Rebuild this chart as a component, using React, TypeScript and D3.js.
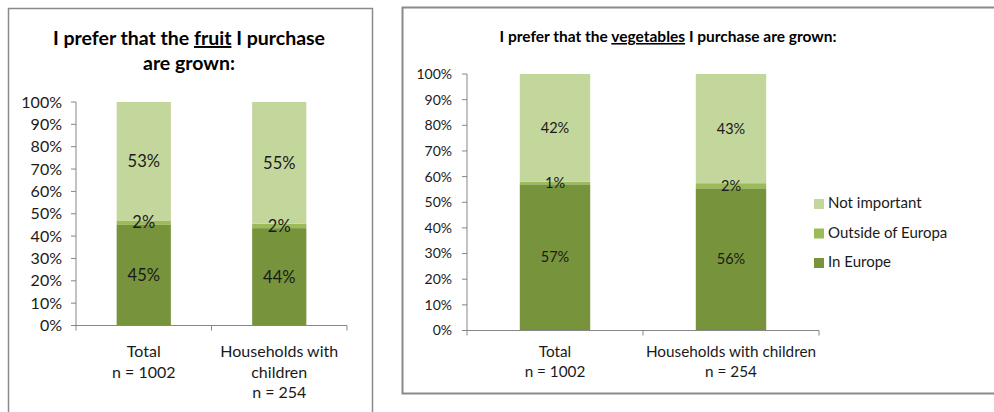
import React from 'react';
import * as d3 from 'd3';

const categories = ['Total', 'Households with children'];
const seriesNames = ['In Europe', 'Outside of Europa', 'Not important'];
const fruitInEurope = [45, 44];
const fruitOutside = [2, 2];
const fruitNotImportant = [53, 55];
const vegInEurope = [57, 56];
const vegOutside = [1, 2];
const vegNotImportant = [42, 43];
const yTicks = [0, 10, 20, 30, 40, 50, 60, 70, 80, 90, 100];
const fruitCatLabels = [['Total', 'n = 1002'], ['Households with', 'children', 'n = 254']];
const vegCatLabels = [['Total', 'n = 1002'], ['Households with children', 'n = 254']];
const legendOrder = ['Not important', 'Outside of Europa', 'In Europe'];
const colors: Record<string, string> = {
  'In Europe': '#77933C',
  'Outside of Europa': '#9BBB59',
  'Not important': '#C3D69B',
};

const FONT = 'Lato, "Open Sans", sans-serif';

type Row = { cat: string; [k: string]: any };

function buildRows(a: number[], b: number[], c: number[]): Row[] {
  return categories.map((cat, i) => ({
    cat,
    'In Europe': a[i],
    'Outside of Europa': b[i],
    'Not important': c[i],
  }));
}

interface ChartProps {
  rows: Row[];
  xLeft: number;
  xRight: number;
  yBottom: number;
  yTop: number;
  tickFont: number;
  tickGap: number;
  catFont: number;
  valFont: number;
  catLabels: string[][];
  catY: number;
  catLine: number;
}

function StackChart(p: ChartProps) {
  const x = d3.scaleBand<string>().domain(categories).range([p.xLeft, p.xRight]).paddingInner(0.6).paddingOuter(0.3);
  const y = d3.scaleLinear().domain([0, 1]).range([p.yBottom, p.yTop]);
  const stack = d3.stack<Row>().keys(seriesNames).offset(d3.stackOffsetExpand);
  const stacked = stack(p.rows);
  const axisColor = '#868686';
  const step = x.step();
  return (
    <g>
      {stacked.map((s) => (
        <g key={s.key} fill={colors[s.key]}>
          {s.map((d, i) => (
            <rect key={i} x={x(d.data.cat)} width={x.bandwidth()} y={y(d[1])} height={y(d[0]) - y(d[1])} />
          ))}
        </g>
      ))}
      {stacked.map((s) => (
        <g key={s.key + 'l'}>
          {s.map((d, i) => (
            <text key={i} x={(x(d.data.cat) as number) + x.bandwidth() / 2} y={(y(d[0]) + y(d[1])) / 2}
              dy="0.35em" textAnchor="middle" fontSize={p.valFont} fill="#1a1a1a" fontFamily={FONT}>
              {d.data[s.key] + '%'}
            </text>
          ))}
        </g>
      ))}
      {/* y axis */}
      <line x1={p.xLeft} x2={p.xLeft} y1={p.yTop} y2={p.yBottom} stroke={axisColor} strokeWidth={1} />
      {yTicks.map((t) => (
        <g key={t}>
          <line x1={p.xLeft - 5} x2={p.xLeft} y1={y(t / 100)} y2={y(t / 100)} stroke={axisColor} />
          <text x={p.xLeft - p.tickGap} y={y(t / 100)} dy="0.35em" textAnchor="end" fontSize={p.tickFont} fill="#1a1a1a" fontFamily={FONT}>
            {t + '%'}
          </text>
        </g>
      ))}
      {/* x axis */}
      <line x1={p.xLeft} x2={p.xRight} y1={p.yBottom} y2={p.yBottom} stroke={axisColor} />
      {[0, 1, 2].map((i) => (
        <line key={i} x1={p.xLeft + i * step} x2={p.xLeft + i * step} y1={p.yBottom} y2={p.yBottom + 5} stroke={axisColor} />
      ))}
      {categories.map((c, i) => (
        <text key={c} textAnchor="middle" fontSize={p.catFont} fill="#1a1a1a" fontFamily={FONT}>
          {p.catLabels[i].map((l, j) => (
            <tspan key={j} x={(x(c) as number) + x.bandwidth() / 2} y={p.catY + j * p.catLine}>{l}</tspan>
          ))}
        </text>
      ))}
    </g>
  );
}

export default function App() {
  const fruitRows = buildRows(fruitInEurope, fruitOutside, fruitNotImportant);
  const vegRows = buildRows(vegInEurope, vegOutside, vegNotImportant);
  return (
    <svg width={994} height={412} style={{ position: 'absolute', left: 0, top: 0, background: '#fff' }}>
      <rect x={0} y={0} width={994} height={412} fill="#fff" />
      {/* left panel border */}
      <path d="M8.5,420 L8.5,8.5 L372.5,8.5 L372.5,420" fill="none" stroke="#8a8a8a" strokeWidth={1.5} />
      {/* right panel border */}
      <path d="M1000,7.5 L402.5,7.5 L402.5,393.5 L1000,393.5" fill="none" stroke="#8a8a8a" strokeWidth={2} />

      <text x={189} y={45} textAnchor="middle" fontSize={19.5} fontWeight="bold" fill="#000" fontFamily={FONT}>
        I prefer that the <tspan style={{ textDecoration: 'underline' }}>fruit</tspan> I purchase
      </text>
      <text x={189} y={70} textAnchor="middle" fontSize={19.5} fontWeight="bold" fill="#000" fontFamily={FONT}>
        are grown:
      </text>

      <text x={668} y={42} textAnchor="middle" fontSize={15.5} fontWeight="bold" fill="#000" fontFamily={FONT}>
        I prefer that the <tspan style={{ textDecoration: 'underline' }}>vegetables</tspan> I purchase are grown:
      </text>

      <StackChart rows={fruitRows} xLeft={76} xRight={347} yBottom={325.5} yTop={102} tickFont={16} tickGap={14}
        catFont={16} valFont={16.5} catLabels={fruitCatLabels} catY={357} catLine={20.5} />
      <StackChart rows={vegRows} xLeft={467} xRight={819} yBottom={330.5} yTop={74} tickFont={14} tickGap={15}
        catFont={15.3} valFont={14.5} catLabels={vegCatLabels} catY={357} catLine={20} />

      {legendOrder.map((k, i) => (
        <g key={k}>
          <rect x={814} y={199 + i * 29.5} width={10} height={10} fill={colors[k]} />
          <text x={828} y={208 + i * 29.5} fontSize={15} fill="#1a1a1a" fontFamily={FONT}>{k}</text>
        </g>
      ))}
    </svg>
  );
}
